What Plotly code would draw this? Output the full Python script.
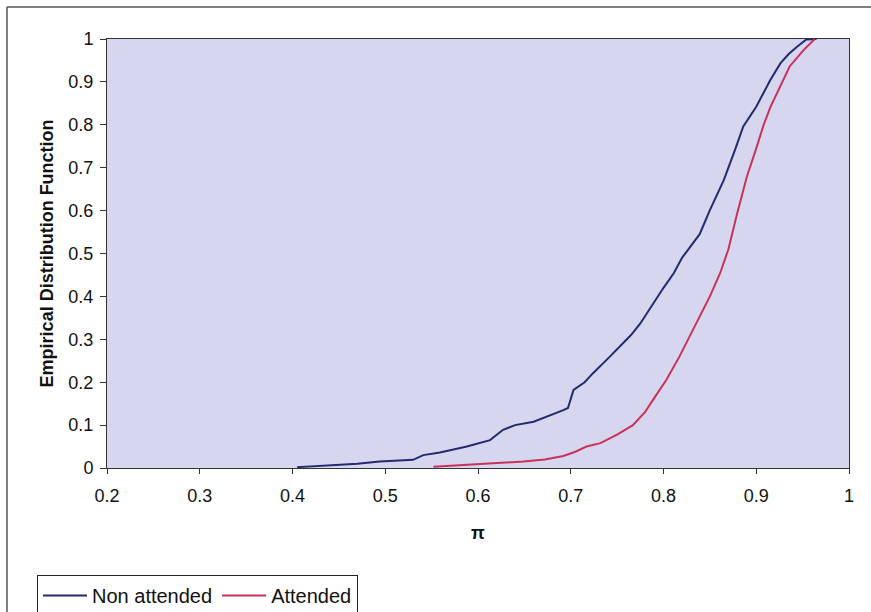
import plotly.graph_objects as go

# Non attended ECDF
non_x = [0.405, 0.44, 0.47, 0.494, 0.530, 0.541, 0.552, 0.559, 0.588, 0.613, 0.627, 0.640,
         0.660, 0.675, 0.692, 0.697, 0.703, 0.715, 0.724, 0.740, 0.753, 0.765, 0.775, 0.789,
         0.800, 0.811, 0.820, 0.829, 0.839, 0.850, 0.865, 0.877, 0.886, 0.900, 0.915, 0.926,
         0.935, 0.944, 0.954, 0.965]
non_y = [0.002, 0.006, 0.010, 0.015, 0.019, 0.030, 0.034, 0.036, 0.050, 0.065, 0.089, 0.100,
         0.108, 0.120, 0.135, 0.140, 0.182, 0.200, 0.221, 0.255, 0.283, 0.310, 0.337, 0.384,
         0.420, 0.454, 0.490, 0.516, 0.545, 0.601, 0.671, 0.741, 0.796, 0.842, 0.904, 0.943,
         0.965, 0.982, 0.999, 1.000]

# Attended ECDF
att_x = [0.552, 0.580, 0.617, 0.649, 0.672, 0.692, 0.705, 0.717, 0.732, 0.750, 0.767, 0.780,
         0.789, 0.803, 0.817, 0.828, 0.839, 0.850, 0.861, 0.870, 0.879, 0.890, 0.900, 0.908,
         0.915, 0.922, 0.936, 0.951, 0.963]
att_y = [0.003, 0.006, 0.011, 0.015, 0.020, 0.028, 0.038, 0.050, 0.058, 0.078, 0.100, 0.130,
         0.160, 0.205, 0.259, 0.305, 0.353, 0.400, 0.454, 0.510, 0.590, 0.680, 0.745, 0.800,
         0.840, 0.873, 0.936, 0.974, 1.000]

series_names = ["Non attended", "Attended"]
series_colors = ["#232a6e", "#c8325a"]

x_ticks = [0.2, 0.3, 0.4, 0.5, 0.6, 0.7, 0.8, 0.9, 1.0]
x_ticklabels = ["0.2", "0.3", "0.4", "0.5", "0.6", "0.7", "0.8", "0.9", "1"]
y_ticks = [0, 0.1, 0.2, 0.3, 0.4, 0.5, 0.6, 0.7, 0.8, 0.9, 1.0]
y_ticklabels = ["0", "0.1", "0.2", "0.3", "0.4", "0.5", "0.6", "0.7", "0.8", "0.9", "1"]

FONT = "Arial, Liberation Sans, sans-serif"

fig = go.Figure()
for xs, ys, name, col in [(non_x, non_y, series_names[0], series_colors[0]),
                          (att_x, att_y, series_names[1], series_colors[1])]:
    fig.add_trace(go.Scatter(x=xs, y=ys, mode="lines", name=name,
                             line=dict(color=col, width=2)))

fig.update_layout(
    width=871, height=612,
    margin=dict(l=107, r=22, t=39, b=144, autoexpand=False),
    paper_bgcolor="white",
    plot_bgcolor="#d6d6ef",
    font=dict(family=FONT, size=18, color="#111"),
    showlegend=True,
    legend=dict(orientation="h", xref="container", yref="container",
                x=0.0425, y=0.0605, xanchor="left", yanchor="top",
                bordercolor="#222", borderwidth=1, bgcolor="white",
                font=dict(family=FONT, size=20, color="#111"),
                itemwidth=44, tracegroupgap=0),
    xaxis=dict(range=[0.2, 1.0], tickvals=x_ticks, ticktext=x_ticklabels,
               showgrid=False, zeroline=False, showline=True, linecolor="#333",
               linewidth=1, mirror=True, ticks="outside", ticklen=5, tickcolor="#333",
               ticklabelstandoff=6),
    yaxis=dict(range=[0, 1.0], tickvals=y_ticks, ticktext=y_ticklabels,
               showgrid=False, zeroline=False, showline=True, linecolor="#333",
               linewidth=1, mirror=True, ticks="outside", ticklen=6, tickcolor="#333",
               ticklabelstandoff=3),
    annotations=[
        dict(text="<b>π</b>", xref="paper", yref="paper", x=0.5, y=-0.152,
             showarrow=False, font=dict(family=FONT, size=18, color="#111"),
             xanchor="center", yanchor="middle"),
        dict(text="<b>Empirical Distribution Function</b>", xref="paper", yref="paper",
             x=-0.081, y=0.5, textangle=-90, showarrow=False,
             font=dict(family=FONT, size=18, color="#111"),
             xanchor="center", yanchor="middle"),
    ],
    shapes=[
        dict(type="line", xref="paper", yref="paper", x0=-0.1348, x1=-0.1348,
             y0=1.0746, y1=-0.34, line=dict(color="#555", width=1.5)),
        dict(type="line", xref="paper", yref="paper", x0=-0.1348, x1=1.03,
             y0=1.0746, y1=1.0746, line=dict(color="#555", width=1.5)),
    ],
)

fig.write_html("out.html")
